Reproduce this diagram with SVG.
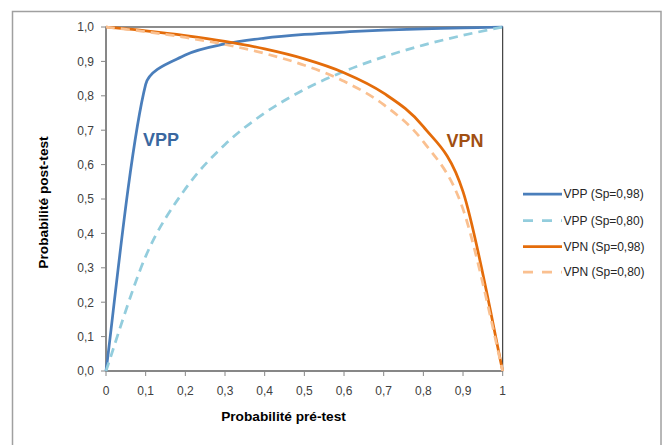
<svg xmlns="http://www.w3.org/2000/svg" width="665" height="445" viewBox="0 0 665 445">
  <style>
    .tick { stroke: #868686; stroke-width: 1; fill: none; }
    .axis { stroke: #868686; stroke-width: 1.3; fill: none; }
    .lbl { font-family: "Liberation Sans", Arial, sans-serif; font-size: 12px; fill: #404040; }
    .ylbl { text-anchor: end; }
    .xlbl { text-anchor: middle; }
    .title { font-family: "Liberation Sans", Arial, sans-serif; font-size: 13.7px; font-weight: bold; fill: #000; text-anchor: middle; }
    .curve { fill: none; stroke-width: 2.75; stroke-linejoin: round; }
    .vpp98 { stroke: #4A7EBB; }
    .vpp80 { stroke: #93CDDD; stroke-dasharray: 9 6; }
    .vpn98 { stroke: #E46C0A; }
    .vpn80 { stroke: #FAC090; stroke-dasharray: 9 6; }
    .leg { font-family: "Liberation Sans", Arial, sans-serif; font-size: 12px; fill: #262626; }
    .legline { fill: none; stroke-width: 2.75; }
    .legdash { stroke-dasharray: 10 9; }
    .tag { font-family: "Liberation Sans", Arial, sans-serif; font-size: 18px; font-weight: bold; }
  </style>

  <rect x="0" y="0" width="665" height="445" fill="#ffffff"/>

  <g id="chart-frame">
    <rect x="12.5" y="11.5" width="648.5" height="450" fill="#ffffff" stroke="#A0A0A0" stroke-width="1.5"/>
  </g>

  <g id="plot-area">
    <rect x="106" y="27" width="396.7" height="344" fill="#ffffff" stroke="#1a1a1a" stroke-width="1"/>
  </g>

  <g id="y-axis">
    <line class="axis" x1="106" y1="27" x2="106" y2="371"/>
    <path class="tick" d="M101 371H106M101 336.6H106M101 302.2H106M101 267.8H106M101 233.4H106M101 199H106M101 164.6H106M101 130.2H106M101 95.8H106M101 61.4H106M101 27H106"/>
    <text class="lbl ylbl" x="94" y="375.3">0,0</text>
    <text class="lbl ylbl" x="94" y="340.9">0,1</text>
    <text class="lbl ylbl" x="94" y="306.5">0,2</text>
    <text class="lbl ylbl" x="94" y="272.1">0,3</text>
    <text class="lbl ylbl" x="94" y="237.7">0,4</text>
    <text class="lbl ylbl" x="94" y="203.3">0,5</text>
    <text class="lbl ylbl" x="94" y="168.9">0,6</text>
    <text class="lbl ylbl" x="94" y="134.5">0,7</text>
    <text class="lbl ylbl" x="94" y="100.1">0,8</text>
    <text class="lbl ylbl" x="94" y="65.7">0,9</text>
    <text class="lbl ylbl" x="94" y="31.3">1,0</text>
    <text class="title" transform="translate(48,202.5) rotate(-90)">Probabilité post-test</text>
  </g>

  <g id="x-axis">
    <line class="axis" x1="106" y1="371" x2="502.7" y2="371"/>
    <path class="tick" d="M106 371V376M145.67 371V376M185.34 371V376M225.01 371V376M264.68 371V376M304.35 371V376M344.02 371V376M383.69 371V376M423.36 371V376M463.03 371V376M502.7 371V376"/>
    <text class="lbl xlbl" x="106" y="395">0</text>
    <text class="lbl xlbl" x="145.67" y="395">0,1</text>
    <text class="lbl xlbl" x="185.34" y="395">0,2</text>
    <text class="lbl xlbl" x="225.01" y="395">0,3</text>
    <text class="lbl xlbl" x="264.68" y="395">0,4</text>
    <text class="lbl xlbl" x="304.35" y="395">0,5</text>
    <text class="lbl xlbl" x="344.02" y="395">0,6</text>
    <text class="lbl xlbl" x="383.69" y="395">0,7</text>
    <text class="lbl xlbl" x="423.36" y="395">0,8</text>
    <text class="lbl xlbl" x="463.03" y="395">0,9</text>
    <text class="lbl xlbl" x="502.7" y="395">1</text>
    <text class="title" x="283.5" y="421">Probabilité pré-test</text>
  </g>

  <g id="series">
    <path id="vpp-098" class="curve vpp98" d="M106 371C112.61 323.22 129.8 147.5 145.67 84.33C149.52 69 170.93 62.41 185.34 55.08C197.38 48.95 211.79 46.79 225.01 43.96C238.23 41.13 251.46 39.68 264.68 38.1C277.9 36.52 291.13 35.49 304.35 34.48C317.57 33.47 330.8 32.73 344.02 32.02C357.24 31.31 370.47 30.76 383.69 30.24C396.91 29.72 410.14 29.3 423.36 28.9C436.58 28.5 449.81 28.17 463.03 27.85C476.25 27.53 496.09 27.14 502.7 27"/>
    <path id="vpp-080" class="curve vpp80" d="M106 371C112.61 351.89 132.45 286.68 145.67 256.33C158.89 225.98 172.12 207.53 185.34 188.88C198.56 170.23 211.79 157.11 225.01 144.46C238.23 131.81 251.46 122.15 264.68 113C277.9 103.85 291.13 96.49 304.35 89.55C317.57 82.61 330.8 76.83 344.02 71.39C357.24 65.95 370.47 61.29 383.69 56.91C396.91 52.53 410.14 48.7 423.36 45.1C436.58 41.5 449.81 38.31 463.03 35.29C476.25 32.27 496.09 28.38 502.7 27"/>
    <path id="vpn-098" class="curve vpn98" d="M106 27C112.61 27.64 132.45 29.43 145.67 30.86C158.89 32.29 172.12 33.8 185.34 35.56C198.56 37.32 211.79 39.18 225.01 41.41C238.23 43.64 251.46 46 264.68 48.91C277.9 51.82 291.13 54.89 304.35 58.85C317.57 62.81 330.8 66.94 344.02 72.66C357.24 78.38 370.47 84.14 383.69 93.15C396.91 102.16 410.14 110.29 423.36 126.71C436.58 143.13 449.81 150.96 463.03 191.68C476.25 232.4 496.09 341.11 502.7 371"/>
    <path id="vpn-080" class="curve vpn80" d="M106 27C112.61 27.79 132.45 29.97 145.67 31.71C158.89 33.45 172.12 35.29 185.34 37.42C198.56 39.55 211.79 41.82 225.01 44.49C238.23 47.16 251.46 50 264.68 53.46C277.9 56.92 291.13 60.58 304.35 65.22C317.57 69.86 330.8 74.73 344.02 81.31C357.24 87.89 370.47 94.62 383.69 104.68C396.91 114.74 410.14 124.26 423.36 141.67C436.58 159.08 449.81 170.9 463.03 209.12C476.25 247.34 496.09 344.02 502.7 371"/>
  </g>

  <g id="label-vpp">
    <text class="tag" x="143" y="146" fill="#3A67A0">VPP</text>
  </g>
  <g id="label-vpn">
    <text class="tag" x="446.5" y="146.5" fill="#A14F12">VPN</text>
  </g>

  <g id="legend">
    <g id="legend-vpp98">
      <line class="legline" x1="523" y1="194" x2="562" y2="194" stroke="#4A7EBB"/>
      <text class="leg" x="563.5" y="198.3">VPP (Sp=0,98)</text>
    </g>
    <g id="legend-vpp80">
      <line class="legline legdash" x1="523" y1="220.5" x2="562" y2="220.5" stroke="#93CDDD"/>
      <text class="leg" x="563.5" y="224.8">VPP (Sp=0,80)</text>
    </g>
    <g id="legend-vpn98">
      <line class="legline" x1="523" y1="246.5" x2="562" y2="246.5" stroke="#E46C0A"/>
      <text class="leg" x="563.5" y="250.8">VPN (Sp=0,98)</text>
    </g>
    <g id="legend-vpn80">
      <line class="legline legdash" x1="523" y1="272" x2="562" y2="272" stroke="#FAC090"/>
      <text class="leg" x="563.5" y="276.3">VPN (Sp=0,80)</text>
    </g>
  </g>
</svg>
